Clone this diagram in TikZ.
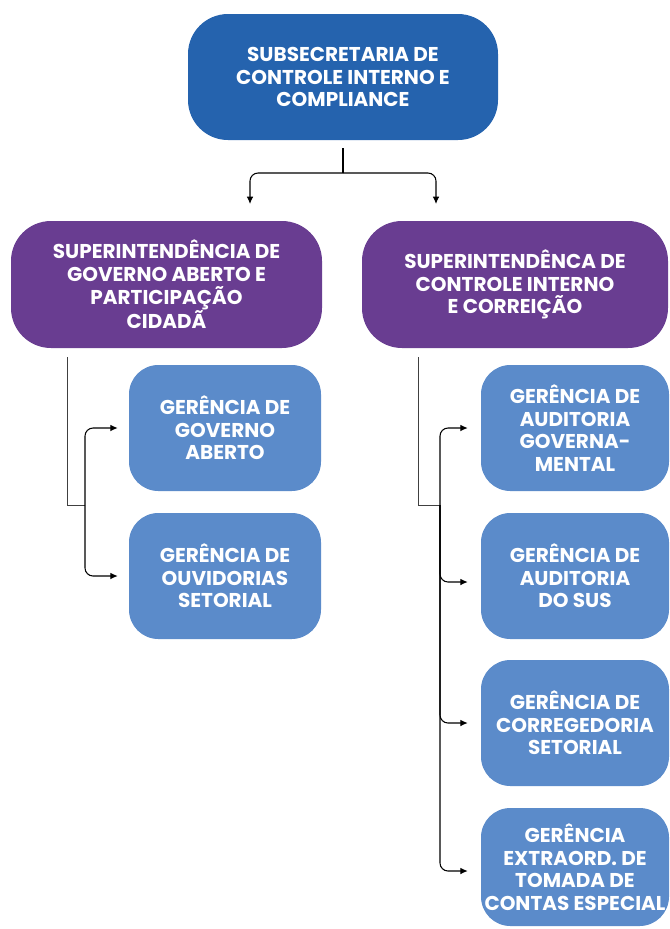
\documentclass[tikz,border=0pt]{standalone}
\usepackage{fontspec}
\setmainfont{Poppins}
\usetikzlibrary{arrows.meta}

\definecolor{subblue}{RGB}{37,99,174}
\definecolor{superpurple}{RGB}{105,61,145}
\definecolor{gerblue}{RGB}{91,139,202}

\tikzset{
  orgbox/.style={draw=none, rounded corners=#1, align=center, text=white,
    font=\fontsize{15}{16.9}\selectfont\bfseries, inner sep=0pt},
  link/.style={line width=0.8pt, rounded corners=6pt},
  linkarrow/.style={link, -{Latex[length=5.5pt,width=5pt]}},
  stemline/.style={line width=0.7pt, draw=black!75}
}

\begin{document}
\begin{tikzpicture}[x=0.75pt,y=0.75pt,yscale=-1,xscale=1]
\useasboundingbox (0,0) rectangle (669,929);

%Shape: Rounded Rectangle [id:sub]
\node (sub) [orgbox=30pt, fill=subblue, minimum width=232.5pt, minimum height=94.5pt] at (343,77)
  {SUBSECRETARIA DE\\CONTROLE INTERNO E\\COMPLIANCE};
%Shape: Rounded Rectangle [id:supA]
\node (supA) [orgbox=30pt, fill=superpurple, minimum width=233.25pt, minimum height=95.25pt] at (166.5,284.5)
  {SUPERINTENDÊNCIA DE\\GOVERNO ABERTO E\\PARTICIPAÇÃO\\CIDADÃ};
%Shape: Rounded Rectangle [id:supB]
\node (supB) [orgbox=30pt, fill=superpurple, minimum width=229.5pt, minimum height=95.25pt] at (515,284.5)
  {SUPERINTENDÊNCA DE\\CONTROLE INTERNO\\E CORREIÇÃO};

%Shape: Rounded Rectangle [id:gA1]
\node (gA1) [orgbox=22pt, fill=gerblue, minimum width=144pt, minimum height=94.5pt] at (225,428)
  {GERÊNCIA DE\\GOVERNO\\ABERTO};
%Shape: Rounded Rectangle [id:gA2]
\node (gA2) [orgbox=22pt, fill=gerblue, minimum width=144pt, minimum height=94.5pt] at (225,576)
  {GERÊNCIA DE\\OUVIDORIAS\\SETORIAL};
%Shape: Rounded Rectangle [id:gB1]
\node (gB1) [orgbox=22pt, fill=gerblue, minimum width=141pt, minimum height=94.5pt] at (575,428)
  {GERÊNCIA DE\\AUDITORIA\\GOVERNA-\\MENTAL};
%Shape: Rounded Rectangle [id:gB2]
\node (gB2) [orgbox=22pt, fill=gerblue, minimum width=141pt, minimum height=94.5pt] at (575,576)
  {GERÊNCIA DE\\AUDITORIA\\DO SUS};
%Shape: Rounded Rectangle [id:gB3]
\node (gB3) [orgbox=22pt, fill=gerblue, minimum width=141pt, minimum height=94.5pt] at (575,723)
  {GERÊNCIA DE\\CORREGEDORIA\\SETORIAL};
%Shape: Rounded Rectangle [id:gB4]
\node (gB4) [orgbox=22pt, fill=gerblue, minimum width=141pt, minimum height=88.5pt] at (575,867)
  {GERÊNCIA\\EXTRAORD. DE\\TOMADA DE\\CONTAS ESPECIAL};

% Junction points
\coordinate (subStem) at (343,148);
\coordinate (subFork) at (343,173);
\coordinate (toSupA) at (250,204);
\coordinate (toSupB) at (436,204);
\coordinate (stemA) at (67,357);
\coordinate (joinA) at (85,505);
\coordinate (stemB) at (418,357);
\coordinate (joinB) at (440,505);

%Straight Lines [id:top]
\draw [link] (subStem) -- (subFork);
\draw [linkarrow] (subFork) -| (toSupA);
\draw [linkarrow] (subFork) -| (toSupB);

%Straight Lines [id:left]
\draw [stemline] (stemA) |- (joinA);
\draw [linkarrow] (joinA) |- ([xshift=-8.25pt]gA1.west);
\draw [linkarrow] (joinA) |- ([xshift=-8.25pt]gA2.west);

%Straight Lines [id:right]
\draw [stemline] (stemB) |- (joinB);
\draw [linkarrow] (joinB) |- ([xshift=-9.75pt]gB1.west);
\draw [linkarrow] (joinB) |- ([xshift=-9.75pt,yshift=4.5pt]gB2.west);
\draw [linkarrow] (joinB) |- ([xshift=-9.75pt]gB3.west);
\draw [linkarrow] (joinB) |- ([xshift=-9.75pt,yshift=3pt]gB4.west);

\end{tikzpicture}
\end{document}
